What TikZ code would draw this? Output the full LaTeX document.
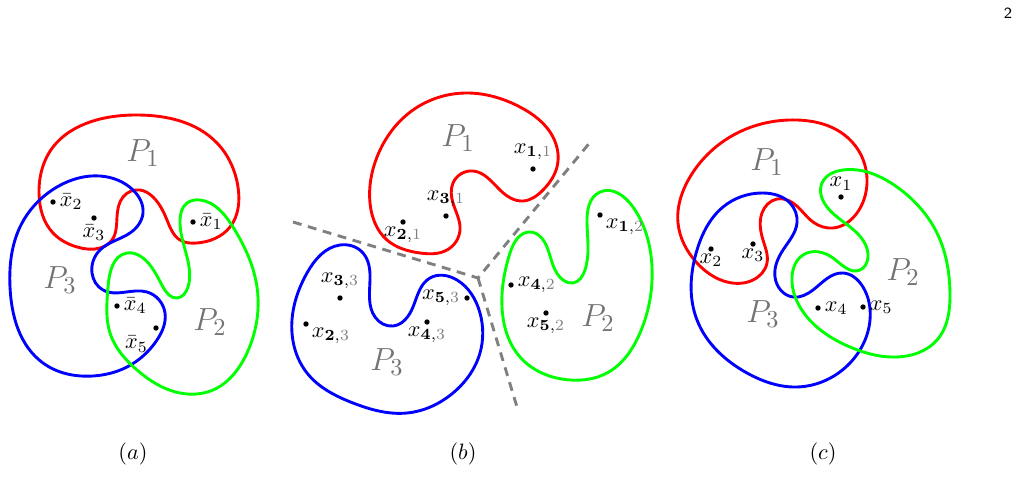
\documentclass[tikz,border=0pt]{standalone}
\usepackage{amsmath}
\usetikzlibrary{positioning, hobby}

\begin{document}
\begin{tikzpicture}[x=0.45pt, y=-0.45pt,
        blob/.style={line width=1.3pt, use Hobby shortcut, closed=true},
        pt/.style={circle, fill=black, inner sep=0pt, minimum size=2.4pt},
        lbl/.style={inner sep=0.5pt, font=\normalsize},
        plbl/.style={text=black!55, font=\fontsize{15}{18}\selectfont},
        sep/.style={draw=black!50, line width=1.3pt, dash pattern=on 4pt off 3pt},
        subcap/.style={font=\normalsize}
      ]
        \useasboundingbox (0,0) rectangle (1029,504);
        \node[font=\sffamily\scriptsize] (pagenum) at (1008,13) {2};

        % (a)
        \draw[blob, red] (138,115) .. (217,143) .. (238,187) .. (230,227)
          .. (197,243) .. (180,240) .. (167,220) .. (153,197) .. (140,190)
          .. (123,197) .. (117,217) .. (112,240) .. (100,248) .. (77,247)
          .. (53,233) .. (39,193) .. (53,147) .. (90,122);
        \draw[blob, blue] (100,176) .. (133,190) .. (143,213) .. (130,233)
          .. (100,250) .. (92,273) .. (103,290) .. (147,292) .. (165,313)
          .. (157,340) .. (127,367) .. (93,376) .. (43,363) .. (10,287)
          .. (20,227) .. (57,187);
        \draw[blob, green] (200,200) .. (233,227) .. (257,287) .. (247,353)
          .. (213,390) .. (180,393) .. (137,370) .. (110,333) .. (108,287)
          .. (127,253) .. (143,258) .. (163,287) .. (177,298) .. (188,287)
          .. (187,257) .. (180,220) .. (187,203);
        \node[plbl] (Pa1) at (143,153) {$P_1$};
        \node[plbl] (Pa2) at (210,322) {$P_2$};
        \node[plbl] (Pa3) at (60,280) {$P_3$};
        \node[pt] (a1) at (193,222) {};
        \node[pt] (a2) at (53,202) {};
        \node[pt] (a3) at (94,218) {};
        \node[pt] (a4) at (117,306) {};
        \node[pt] (a5) at (156,328) {};
        \node[lbl, right=1pt of a1] {$\bar{x}_1$};
        \node[lbl, right=1pt of a2] {$\bar{x}_2$};
        \node[lbl, below=1pt of a3] {$\bar{x}_3$};
        \node[lbl, right=1pt of a4] {$\bar{x}_4$};
        \node[lbl, below left=2pt and 2pt of a5] {$\bar{x}_5$};
        \node[subcap] (capa) at (133,454) {$(a)$};

        % (b)
        \draw[blob, red] (467,93) .. (520,107) .. (553,137) .. (557,167)
          .. (543,190) .. (523,201) .. (500,190) .. (473,171) .. (453,183)
          .. (453,203) .. (460,230) .. (447,250) .. (420,253) .. (387,240)
          .. (370,203) .. (377,157) .. (413,110);
        \draw[blob, green] (600,192) .. (633,207) .. (652,267) .. (640,333)
          .. (607,373) .. (570,380) .. (520,357) .. (502,307) .. (510,253)
          .. (530,232) .. (547,247) .. (563,280) .. (573,283) .. (585,270)
          .. (587,223);
        \draw[blob, blue] (340,245) .. (363,253) .. (370,280) .. (375,317)
          .. (393,326) .. (413,307) .. (430,278) .. (457,280) .. (480,313)
          .. (480,353) .. (453,393) .. (407,413) .. (353,403) .. (307,373)
          .. (292,320) .. (307,273);
        \coordinate (junc) at (478,278);
        \coordinate (sepL) at (293,222);
        \coordinate (sepR) at (592,140);
        \coordinate (sepD) at (517,407);
        \draw[sep] (sepL) -- (junc) -- (sepR);
        \draw[sep] (junc) -- (sepD);
        \node[plbl] (Pb1) at (458,138) {$P_1$};
        \node[plbl] (Pb2) at (598,318) {$P_2$};
        \node[plbl] (Pb3) at (387,362) {$P_3$};
        \node[pt] (b11) at (533,169) {};
        \node[pt] (b31) at (446,216) {};
        \node[pt] (b21) at (403,222) {};
        \node[pt] (b12) at (600,215) {};
        \node[pt] (b42) at (511,285) {};
        \node[pt] (b52) at (546,313) {};
        \node[pt] (b33) at (340,298) {};
        \node[pt] (b23) at (306,324) {};
        \node[pt] (b53) at (467,298) {};
        \node[pt] (b43) at (427,322) {};
        \node[lbl, above=2pt of b11] {$x_{\mathbf{1},\textcolor{gray}{1}}$};
        \node[lbl, above=2pt of b31] {$x_{\mathbf{3},\textcolor{gray}{1}}$};
        \node[lbl, below=0pt of b21] {$x_{\mathbf{2},\textcolor{gray}{1}}$};
        \node[lbl, below right=0pt and 1pt of b12] {$x_{\mathbf{1},\textcolor{gray}{2}}$};
        \node[lbl, right=1pt of b42] {$x_{\mathbf{4},\textcolor{gray}{2}}$};
        \node[lbl, below=0pt of b52] {$x_{\mathbf{5},\textcolor{gray}{2}}$};
        \node[lbl, above=2pt of b33] {$x_{\mathbf{3},\textcolor{gray}{3}}$};
        \node[lbl, below right=0pt and 1pt of b23] {$x_{\mathbf{2},\textcolor{gray}{3}}$};
        \node[lbl, left=1pt of b53] {$x_{\mathbf{5},\textcolor{gray}{3}}$};
        \node[lbl, below=0pt of b43] {$x_{\mathbf{4},\textcolor{gray}{3}}$};
        \node[subcap] (capb) at (463,454) {$(b)$};

        % (c)
        \draw[blob, red] (797,120) .. (837,130) .. (860,153) .. (867,183)
          .. (857,213) .. (833,228) .. (813,222) .. (793,203) .. (777,199)
          .. (762,213) .. (763,240) .. (767,263) .. (753,280) .. (727,282)
          .. (697,263) .. (678,223) .. (690,177) .. (730,137);
        \draw[blob, blue] (763,193) .. (790,203) .. (797,223) .. (783,250)
          .. (775,277) .. (793,297) .. (813,290) .. (843,273) .. (863,287)
          .. (870,320) .. (850,363) .. (797,387) .. (747,373) .. (697,320)
          .. (697,250) .. (723,207);
        \draw[blob, green] (843,170) .. (897,187) .. (937,233) .. (950,293)
          .. (937,340) .. (897,357) .. (850,347) .. (807,317) .. (792,277)
          .. (803,255) .. (833,258) .. (860,270) .. (868,257) .. (857,233)
          .. (827,207) .. (822,183);
        \node[plbl] (Pc1) at (767,162) {$P_1$};
        \node[plbl] (Pc2) at (903,272) {$P_2$};
        \node[plbl] (Pc3) at (763,314) {$P_3$};
        \node[pt] (c1) at (841,197) {};
        \node[pt] (c2) at (711,249) {};
        \node[pt] (c3) at (753,244) {};
        \node[pt] (c4) at (818,308) {};
        \node[pt] (c5) at (863,307) {};
        \node[lbl, above=1pt of c1] {$x_1$};
        \node[lbl, below=0pt of c2] {$x_2$};
        \node[lbl, below=0pt of c3] {$x_3$};
        \node[lbl, right=1pt of c4] {$x_4$};
        \node[lbl, right=1pt of c5] {$x_5$};
        \node[subcap] (capc) at (823,454) {$(c)$};
      \end{tikzpicture}
\end{document}
